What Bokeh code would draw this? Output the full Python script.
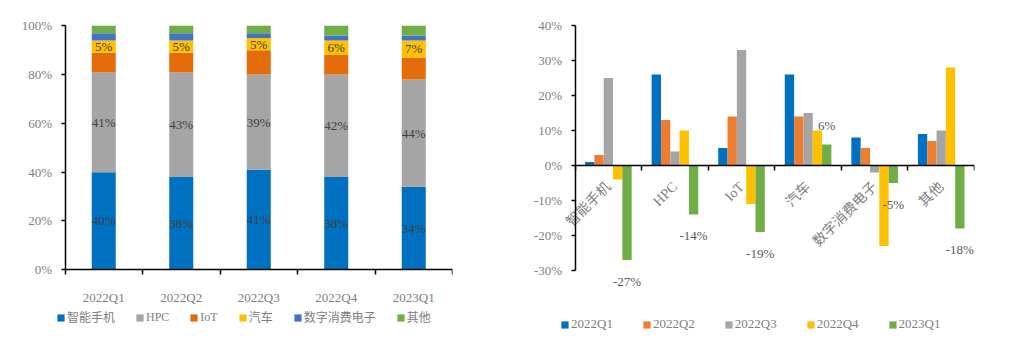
import numpy as np
from math import pi
from bokeh.plotting import figure
from bokeh.layouts import row
from bokeh.models import (ColumnDataSource, FixedTicker, PrintfTickFormatter, Legend,
                          LegendItem, LabelSet, Range1d)
from bokeh.transform import dodge
from bokeh.embed import file_html
from bokeh.resources import INLINE

# ---------------- data ----------------
quarters = ["2022Q1", "2022Q2", "2022Q3", "2022Q4", "2023Q1"]
segments = ["智能手机", "HPC", "IoT", "汽车", "数字消费电子", "其他"]
share_smartphone = [40, 38, 41, 38, 34]
share_hpc = [41, 43, 39, 42, 44]
share_iot = [8, 8, 10, 8, 9]
share_auto = [5, 5, 5, 6, 7]
share_dce = [3, 3, 2, 2, 2]
share_other = [3, 3, 3, 4, 4]

growth_categories = ["智能手机", "HPC", "IoT", "汽车", "数字消费电子", "其他"]
growth_series = ["2022Q1", "2022Q2", "2022Q3", "2022Q4", "2023Q1"]
growth_2022q1 = [1, 26, 5, 26, 8, 9]
growth_2022q2 = [3, 13, 14, 14, 5, 7]
growth_2022q3 = [25, 4, 33, 15, -2, 10]
growth_2022q4 = [-4, 10, -11, 10, -23, 28]
growth_2023q1 = [-27, -14, -19, 6, -5, -18]

left_ticks = [0, 20, 40, 60, 80, 100]
right_ticks = [-30, -20, -10, 0, 10, 20, 30, 40]

# ---------------- styles ----------------
FONT = "Liberation Serif, Noto Sans CJK SC"
TICK_COLOR = "#808080"
seg_colors = ["#0070C0", "#A5A5A5", "#E46C0A", "#FFC000", "#4472C4", "#70AD47"]
ser_colors = ["#0070C0", "#ED7D31", "#A5A5A5", "#FFC000", "#70AD47"]


def style_common(p):
    p.outline_line_color = None
    p.xgrid.visible = False
    p.ygrid.visible = False
    p.background_fill_color = "white"
    p.border_fill_color = "white"
    for ax in (p.xaxis[0], p.yaxis[0]):
        ax.axis_line_color = "black"
        ax.axis_line_width = 1.5
        ax.major_label_text_font = FONT
        ax.major_label_text_font_size = "13px"
        ax.major_label_text_color = TICK_COLOR
    p.yaxis.fixed_location = 0
    p.yaxis.major_tick_line_color = "black"
    p.yaxis.major_tick_line_width = 1.5
    p.yaxis.major_tick_in = 0
    p.yaxis.major_tick_out = 4
    p.yaxis.minor_tick_line_color = None
    p.yaxis.major_label_standoff = 9
    p.yaxis.formatter = PrintfTickFormatter(format="%d%%")
    p.xaxis.fixed_location = 0
    p.xaxis.major_tick_line_color = None
    p.xaxis.major_tick_in = 0
    p.xaxis.major_tick_out = 0
    p.xaxis.minor_tick_line_color = "black"
    p.xaxis.minor_tick_line_width = 1.5
    p.xaxis.minor_tick_in = 0
    p.xaxis.minor_tick_out = 5


def make_legend(items, loc, spacing, size):
    lg = Legend(items=items, orientation="horizontal", location=loc,
                glyph_width=9, glyph_height=9, label_standoff=2, spacing=spacing,
                padding=0, margin=0, border_line_color=None, background_fill_alpha=0,
                label_text_font=FONT, label_text_font_size=size,
                label_text_color=TICK_COLOR, label_height=12, label_width=0)
    return lg


# ---------------- left: stacked share ----------------
nq = len(quarters)
src1 = ColumnDataSource(dict(
    x=np.arange(nq) + 0.5,
    s0=share_smartphone, s1=share_hpc, s2=share_iot,
    s3=share_auto, s4=share_dce, s5=share_other,
))
p1 = figure(width=500, height=351, x_range=Range1d(-0.6, nq), y_range=Range1d(-29, 103),
            output_backend="svg", toolbar_location=None,
            min_border_left=18, min_border_right=48, min_border_top=18, min_border_bottom=7)
style_common(p1)
p1.yaxis.bounds = (0, 100)
p1.xaxis.bounds = (0, nq)
rs1 = p1.vbar_stack(["s0", "s1", "s2", "s3", "s4", "s5"], x="x", width=0.31,
                    color=seg_colors, line_color=None, source=src1)
p1.yaxis.ticker = FixedTicker(ticks=left_ticks, minor_ticks=[])
p1.xaxis.ticker = FixedTicker(ticks=list(np.arange(nq) + 0.5), minor_ticks=list(range(nq + 1)))
p1.xaxis.major_label_overrides = {float(i + 0.5): q for i, q in enumerate(quarters)}
p1.xaxis.major_label_standoff = 15

sp = np.array(share_smartphone, dtype=float)
hp = np.array(share_hpc, dtype=float)
io = np.array(share_iot, dtype=float)
au = np.array(share_auto, dtype=float)
lab_x = np.concatenate([np.arange(nq) + 0.5] * 3)
lab_y = np.concatenate([sp / 2, sp + hp / 2, sp + hp + io + au / 2])
lab_t = [f"{int(v)}%" for v in np.concatenate([sp, hp, au])]
lsrc1 = ColumnDataSource(dict(x=lab_x, y=lab_y, t=lab_t))
p1.add_layout(LabelSet(x="x", y="y", text="t", source=lsrc1, text_align="center",
                       text_baseline="middle", text_font=FONT, text_font_size="13px",
                       text_color="#404040"))

items1 = [LegendItem(label=s, renderers=[r]) for s, r in zip(segments, rs1)]
p1.add_layout(make_legend(items1, (38, 14), 20, "12px"), "center")

# ---------------- right: growth by segment ----------------
nc = len(growth_categories)
src2 = ColumnDataSource(dict(
    x=np.arange(nc) + 0.5,
    g0=growth_2022q1, g1=growth_2022q2, g2=growth_2022q3,
    g3=growth_2022q4, g4=growth_2023q1,
))
p2 = figure(width=515, height=351, x_range=Range1d(-0.7, nc), y_range=Range1d(-50, 42),
            output_backend="svg", toolbar_location=None,
            min_border_left=28, min_border_right=41, min_border_top=10, min_border_bottom=11)
style_common(p2)
p2.yaxis.bounds = (-30, 40)
p2.xaxis.bounds = (0, nc)
bw = 0.14
rs2 = []
for j, col in enumerate(["g0", "g1", "g2", "g3", "g4"]):
    r = p2.vbar(x=dodge("x", (j - 2) * bw), top=col, bottom=0, width=bw,
                fill_color=ser_colors[j], line_color=None, source=src2)
    rs2.append(r)
p2.yaxis.ticker = FixedTicker(ticks=right_ticks, minor_ticks=[])
p2.xaxis.ticker = FixedTicker(ticks=list(np.arange(nc) + 0.5), minor_ticks=list(range(nc + 1)))
p2.xaxis.major_label_overrides = {float(i + 0.5): c for i, c in enumerate(growth_categories)}
p2.xaxis.major_label_orientation = pi / 4
p2.xaxis.major_label_standoff = 14
p2.xaxis.major_label_text_font_size = "14px"

g4 = np.array(growth_2023q1, dtype=float)
lsrc2 = ColumnDataSource(dict(
    x=np.arange(nc) + 0.5 + 2 * bw, y=g4,
    t=[f"{int(v)}%" for v in g4],
    off=np.where(g4 < 0, -21, 19),
))
p2.add_layout(LabelSet(x="x", y="y", text="t", source=lsrc2, y_offset="off",
                       text_align="center", text_baseline="middle", text_font=FONT,
                       text_font_size="13px", text_color="#595959"))

items2 = [LegendItem(label=s, renderers=[r]) for s, r in zip(growth_series, rs2)]
p2.add_layout(make_legend(items2, (32, 8), 29, "13px"), "center")

layout = row(p1, p2)
open("out.html", "w").write(file_html(layout, INLINE))
